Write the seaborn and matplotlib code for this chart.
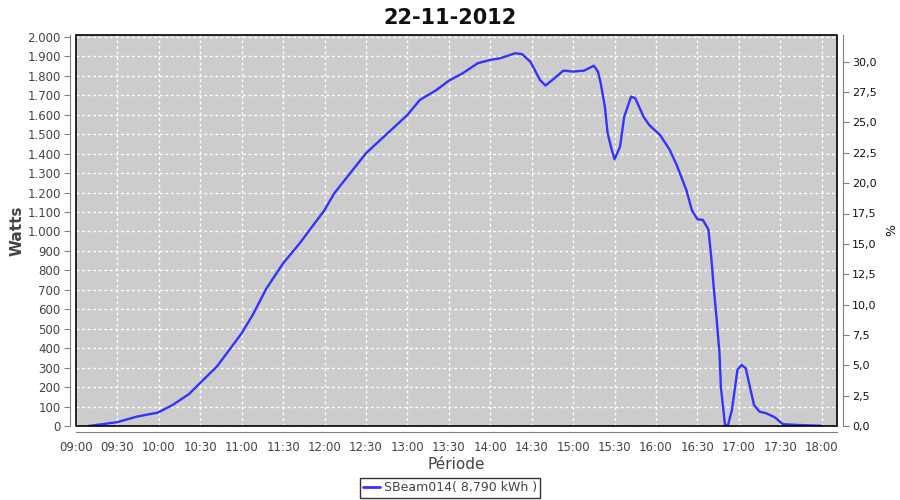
import matplotlib
matplotlib.use("Agg")
import matplotlib.pyplot as plt
from matplotlib.patches import Rectangle
from matplotlib.lines import Line2D
import seaborn as sns
import pandas as pd
import numpy as np

# readings from the chart: time of day and power in watts
times = ["09:09", "09:20", "09:30", "09:44", "09:54", "09:59", "10:10", "10:22",
         "10:30", "10:42", "11:00", "11:08", "11:18", "11:30", "11:42", "12:00",
         "12:07", "12:30", "13:00", "13:09", "13:21", "13:30", "13:40", "13:51",
         "14:00", "14:07", "14:18", "14:23", "14:29", "14:31", "14:36", "14:40",
         "14:45", "14:53", "15:00", "15:08", "15:15", "15:18", "15:20", "15:23",
         "15:25", "15:28", "15:30", "15:34", "15:37", "15:42", "15:45", "15:51",
         "15:55", "16:03", "16:10", "16:15", "16:22", "16:26", "16:30", "16:34",
         "16:38", "16:40", "16:42", "16:44", "16:46", "16:47", "16:50", "16:52",
         "16:55", "16:57", "16:59", "17:02", "17:05", "17:08", "17:11", "17:15",
         "17:20", "17:26", "17:32", "17:44", "18:00"]
watts = [0, 10, 20, 48, 62, 68, 108, 165,
         222, 305, 477, 571, 708, 836, 939, 1110,
         1196, 1402, 1599, 1676, 1727, 1775, 1813, 1865,
         1882, 1890, 1916, 1912, 1873, 1847, 1779, 1750,
         1779, 1827, 1822, 1827, 1852, 1822, 1762, 1642,
         1505, 1419, 1371, 1436, 1590, 1693, 1685, 1590,
         1548, 1496, 1419, 1342, 1213, 1110, 1063, 1059,
         1010, 870, 699, 545, 374, 202, 5, 0,
         82, 185, 288, 314, 297, 202, 108, 74,
         65, 45, 9, 5, 1]

series_name = "SBeam014( 8,790 kWh )"
title = "22-11-2012"

hours = [int(t[:2]) + int(t[3:]) / 60 for t in times]
df = pd.DataFrame({"hour": hours, "watts": watts})

sns.set_style("white")
plt.rcParams["font.family"] = ["DejaVu Sans"]

fig = plt.figure(figsize=(9, 5), dpi=100)
ax = fig.add_axes([0.0844, 0.148, 0.8456, 0.782])
ax.set_facecolor("#CCCCCC")

line_color = "#3333FF"
sns.lineplot(data=df, x="hour", y="watts", ax=ax, color=line_color, lw=1.7)

ax.set_xlim(9, 18.185)
ax.set_ylim(0, 2010)

xt = np.arange(9, 18.01, 0.5)
ax.set_xticks(xt)
ax.set_xticklabels([f"{int(h):02d}:{int(round((h % 1) * 60)):02d}" for h in xt])
yt = np.arange(0, 2001, 100)
ax.set_yticks(yt)
ax.set_yticklabels([f"{v:,.0f}".replace(",", ".") for v in yt])

ax.grid(True, color="white", linestyle=(0, (2, 2)), linewidth=1)
ax.set_axisbelow(True)

axis_gray = "#808080"
text_gray = "#444444"
for side in ["top", "right"]:
    ax.spines[side].set_visible(False)
for side in ["left", "bottom"]:
    ax.spines[side].set_position(("outward", 4))
    ax.spines[side].set_color(axis_gray)
ax.tick_params(axis="both", direction="out", length=4, color=axis_gray,
               labelsize=8.5, labelcolor=text_gray, pad=3)

ax.add_patch(Rectangle((0, 0), 1, 1, transform=ax.transAxes, fill=False,
                       edgecolor="black", lw=1.2, zorder=5, clip_on=False))

ax.set_xlabel("Période", fontsize=11, color=text_gray, labelpad=2)
ax.set_ylabel("Watts", fontsize=11, fontweight="bold", color=text_gray, labelpad=2)

ax2 = ax.twinx()
ax2.set_ylim(0, 32.2)
rt = np.arange(0, 30.01, 2.5)
ax2.set_yticks(rt)
ax2.set_yticklabels([f"{v:.1f}".replace(".", ",") for v in rt])
for side in ["top", "left", "bottom"]:
    ax2.spines[side].set_visible(False)
ax2.spines["right"].set_position(("outward", 4))
ax2.spines["right"].set_color(axis_gray)
ax2.tick_params(axis="y", direction="out", length=4, color=axis_gray,
                labelsize=8, labelcolor="#111111", pad=3)
ax2.set_ylabel("%", fontsize=9, color="#111111", labelpad=6)

fig.suptitle(title, x=0.5, y=0.985, fontsize=15, fontweight="bold", color="#111111")

handle = Line2D([], [], color=line_color, lw=2)
leg = fig.legend([handle], [series_name], loc="center", bbox_to_anchor=(0.5, 0.024),
                 frameon=True, fancybox=False, fontsize=9, handlelength=1.4,
                 handletextpad=0.3, borderpad=0.25, borderaxespad=0)
leg.get_frame().set_edgecolor("black")
leg.get_frame().set_linewidth(1)
for txt in leg.get_texts():
    txt.set_color(text_gray)

fig.savefig("out.png", dpi=100)
